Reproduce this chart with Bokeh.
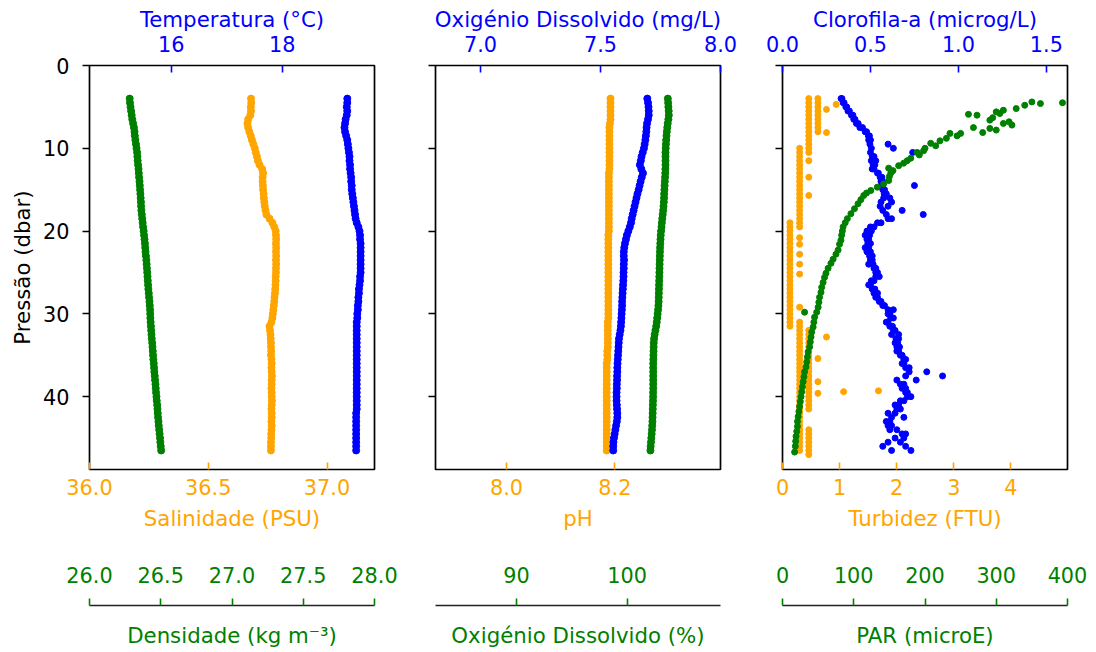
from bokeh.plotting import figure
from bokeh.models import Range1d, LinearAxis, FixedTicker, PrintfTickFormatter
from bokeh.layouts import row
from bokeh.embed import file_html
from bokeh.resources import INLINE

# ---------------- data ----------------
pressao = [
    4.0, 4.5, 5.0, 5.5, 6.0, 6.5, 7.0, 7.5, 8.0, 8.5,
    9.0, 9.5, 10.0, 10.5, 11.0, 11.5, 12.0, 12.5, 13.0, 13.5,
    14.0, 14.5, 15.0, 15.5, 16.0, 16.5, 17.0, 17.5, 18.0, 18.5,
    19.0, 19.5, 20.0, 20.5, 21.0, 21.5, 22.0, 22.5, 23.0, 23.5,
    24.0, 24.5, 25.0, 25.5, 26.0, 26.5, 27.0, 27.5, 28.0, 28.5,
    29.0, 29.5, 30.0, 30.5, 31.0, 31.5, 32.0, 32.5, 33.0, 33.5,
    34.0, 34.5, 35.0, 35.5, 36.0, 36.5, 37.0, 37.5, 38.0, 38.5,
    39.0, 39.5, 40.0, 40.5, 41.0, 41.5, 42.0, 42.5, 43.0, 43.5,
    44.0, 44.5, 45.0, 45.5, 46.0, 46.5]

densidade = [
    26.282, 26.284, 26.288, 26.292, 26.296, 26.300, 26.306, 26.312, 26.316, 26.318,
    26.322, 26.326, 26.330, 26.334, 26.336, 26.338, 26.341, 26.344, 26.346, 26.348,
    26.351, 26.353, 26.355, 26.357, 26.359, 26.361, 26.362, 26.364, 26.367, 26.370,
    26.373, 26.376, 26.380, 26.383, 26.386, 26.389, 26.391, 26.393, 26.396, 26.399,
    26.401, 26.403, 26.405, 26.407, 26.409, 26.411, 26.413, 26.416, 26.418, 26.421,
    26.423, 26.425, 26.426, 26.427, 26.429, 26.431, 26.433, 26.435, 26.437, 26.440,
    26.442, 26.444, 26.446, 26.448, 26.451, 26.453, 26.455, 26.458, 26.460, 26.463,
    26.465, 26.467, 26.470, 26.472, 26.475, 26.477, 26.479, 26.481, 26.484, 26.486,
    26.489, 26.492, 26.495, 26.497, 26.500, 26.503]

salinidade = [
    36.680, 36.681, 36.679, 36.680, 36.677, 36.668, 36.665, 36.668, 36.673, 36.679,
    36.684, 36.690, 36.696, 36.700, 36.705, 36.709, 36.716, 36.727, 36.731, 36.729,
    36.729, 36.730, 36.731, 36.733, 36.734, 36.736, 36.738, 36.741, 36.745, 36.758,
    36.770, 36.778, 36.784, 36.785, 36.786, 36.785, 36.786, 36.785, 36.786, 36.785,
    36.786, 36.785, 36.785, 36.784, 36.784, 36.783, 36.782, 36.781, 36.779, 36.778,
    36.776, 36.774, 36.772, 36.770, 36.766, 36.758, 36.760, 36.762, 36.763, 36.764,
    36.764, 36.765, 36.764, 36.766, 36.767, 36.766, 36.767, 36.768, 36.767, 36.767,
    36.766, 36.767, 36.767, 36.768, 36.767, 36.766, 36.767, 36.767, 36.766, 36.767,
    36.766, 36.765, 36.765, 36.764, 36.764, 36.764]

temperatura = [
    19.17, 19.17, 19.16, 19.17, 19.16, 19.14, 19.13, 19.12, 19.13, 19.15,
    19.17, 19.18, 19.19, 19.20, 19.21, 19.21, 19.22, 19.22, 19.23, 19.24,
    19.24, 19.25, 19.25, 19.26, 19.27, 19.28, 19.29, 19.30, 19.31, 19.32,
    19.34, 19.37, 19.39, 19.40, 19.40, 19.41, 19.41, 19.41, 19.41, 19.41,
    19.41, 19.41, 19.41, 19.40, 19.40, 19.39, 19.38, 19.38, 19.37, 19.37,
    19.36, 19.36, 19.35, 19.35, 19.34, 19.34, 19.34, 19.34, 19.34, 19.34,
    19.34, 19.34, 19.34, 19.34, 19.34, 19.34, 19.34, 19.34, 19.34, 19.34,
    19.34, 19.34, 19.34, 19.34, 19.34, 19.34, 19.33, 19.33, 19.33, 19.33,
    19.33, 19.33, 19.33, 19.33, 19.33, 19.33]

ph = [
    8.192, 8.192, 8.192, 8.192, 8.192, 8.192, 8.191, 8.190, 8.190, 8.190,
    8.190, 8.190, 8.190, 8.190, 8.190, 8.190, 8.190, 8.190, 8.189, 8.189,
    8.189, 8.189, 8.189, 8.189, 8.189, 8.189, 8.189, 8.189, 8.189, 8.189,
    8.189, 8.189, 8.189, 8.188, 8.188, 8.188, 8.188, 8.188, 8.188, 8.188,
    8.188, 8.188, 8.188, 8.188, 8.188, 8.188, 8.188, 8.188, 8.188, 8.188,
    8.188, 8.188, 8.188, 8.188, 8.187, 8.187, 8.187, 8.187, 8.187, 8.187,
    8.187, 8.186, 8.186, 8.186, 8.185, 8.185, 8.185, 8.185, 8.185, 8.185,
    8.185, 8.185, 8.185, 8.185, 8.185, 8.185, 8.185, 8.185, 8.185, 8.185,
    8.185, 8.185, 8.185, 8.185, 8.185, 8.185]

od_mgl = [
    7.695, 7.698, 7.700, 7.701, 7.701, 7.698, 7.694, 7.692, 7.691, 7.689,
    7.687, 7.684, 7.681, 7.676, 7.671, 7.668, 7.664, 7.670, 7.677, 7.672,
    7.667, 7.663, 7.659, 7.654, 7.650, 7.646, 7.642, 7.638, 7.634, 7.630,
    7.627, 7.622, 7.616, 7.610, 7.606, 7.602, 7.599, 7.597, 7.597, 7.598,
    7.597, 7.597, 7.596, 7.596, 7.595, 7.594, 7.593, 7.592, 7.591, 7.590,
    7.590, 7.589, 7.588, 7.587, 7.586, 7.585, 7.583, 7.580, 7.577, 7.576,
    7.575, 7.574, 7.573, 7.572, 7.571, 7.570, 7.570, 7.569, 7.569, 7.568,
    7.568, 7.567, 7.567, 7.567, 7.568, 7.569, 7.570, 7.570, 7.568, 7.565,
    7.562, 7.559, 7.556, 7.554, 7.553, 7.553]

od_pct = [
    103.67, 103.70, 103.72, 103.75, 103.76, 103.72, 103.66, 103.62, 103.58, 103.55,
    103.52, 103.50, 103.48, 103.46, 103.46, 103.46, 103.46, 103.45, 103.44, 103.42,
    103.40, 103.38, 103.36, 103.34, 103.33, 103.31, 103.28, 103.25, 103.21, 103.17,
    103.13, 103.10, 103.06, 103.03, 103.01, 102.99, 102.97, 102.96, 102.95, 102.94,
    102.93, 102.92, 102.91, 102.90, 102.89, 102.88, 102.87, 102.86, 102.85, 102.84,
    102.82, 102.79, 102.75, 102.71, 102.67, 102.62, 102.55, 102.48, 102.43, 102.40,
    102.39, 102.38, 102.37, 102.36, 102.35, 102.35, 102.35, 102.35, 102.35, 102.35,
    102.35, 102.34, 102.34, 102.33, 102.32, 102.31, 102.30, 102.29, 102.28, 102.26,
    102.24, 102.21, 102.18, 102.15, 102.12, 102.10]

clorofila_a = [
    0.333, 0.345, 0.360, 0.372, 0.392, 0.405, 0.420, 0.440, 0.470, 0.488,
    0.490, 0.497, 0.505, 0.500, 0.510, 0.505, 0.515, 0.520, 0.540, 0.555,
    0.560, 0.565, 0.570, 0.578, 0.575, 0.560, 0.555, 0.570, 0.590, 0.600,
    0.560, 0.520, 0.505, 0.495, 0.490, 0.485, 0.490, 0.500, 0.495, 0.510,
    0.515, 0.520, 0.540, 0.530, 0.505, 0.500, 0.525, 0.520, 0.540, 0.560,
    0.580, 0.600, 0.610, 0.615, 0.600, 0.625, 0.640, 0.620, 0.645, 0.655,
    0.650, 0.660, 0.670, 0.690, 0.680, 0.700, 0.720, 0.700, 0.650, 0.670,
    0.680, 0.700, 0.710, 0.690, 0.660, 0.650, 0.640, 0.620, 0.610, 0.600,
    0.650, 0.680, 0.640, 0.670, 0.700, 0.620]

clorofila_b = [
    0.338, 0.350, 0.365, 0.380, 0.400, 0.412, 0.430, 0.455, 0.478, 0.494,
    0.500, 0.600, 0.630, 0.740, 0.520, 0.530, 0.525, 0.510, 0.545, 0.565,
    0.570, 0.750, 0.580, 0.590, 0.610, 0.620, 0.600, 0.680, 0.800, 0.620,
    0.540, 0.500, 0.480, 0.470, 0.480, 0.500, 0.470, 0.480, 0.510, 0.500,
    0.490, 0.530, 0.530, 0.550, 0.520, 0.490, 0.510, 0.540, 0.530, 0.550,
    0.570, 0.630, 0.600, 0.630, 0.590, 0.610, 0.630, 0.660, 0.660, 0.640,
    0.665, 0.650, 0.680, 0.700, 0.690, 0.720, 0.820, 0.910, 0.760, 0.690,
    0.700, 0.710, 0.730, 0.670, 0.640, 0.670, 0.600, 0.690, 0.590, 0.620,
    0.610, 0.700, 0.690, 0.600, 0.570, 0.730]

par_pressao = [
    4.4, 4.5, 4.6, 4.8, 5.2, 5.4, 5.6, 5.8, 5.9, 6.0, 6.3, 6.6, 6.8, 7.0, 7.2, 7.5,
    7.6, 7.8, 8.1, 8.2, 8.2, 8.5, 8.8, 9.1, 9.4, 9.7, 10.0, 10.3, 10.5, 10.8, 11.2,
    11.5, 11.8, 12.1, 12.4, 12.7, 13.0, 13.4, 13.9, 14.3, 14.7, 15.1, 15.4, 15.7,
    16.2, 16.7, 17.3, 17.9, 18.5, 19.0, 19.5, 20.0, 20.5, 21.1, 21.6, 22.3, 22.8,
    23.4, 23.9, 24.5, 25.1, 25.6, 26.2, 26.8, 27.4, 28.0, 28.6, 29.2, 29.8, 29.8,
    30.4, 31.0, 31.6, 32.2, 32.8, 33.4, 34.0, 34.6, 35.2, 35.8, 36.4, 37.0, 37.6,
    38.2, 38.8, 39.4, 40.0, 40.6, 41.2, 41.8, 42.4, 43.0, 43.6, 44.2, 44.8, 45.4,
    46.0, 46.7]
par = [
    350, 393, 362, 340, 328, 310, 300, 305, 261, 273, 295, 291, 318, 310, 322, 268,
    291, 300, 281, 250, 235, 245, 230, 221, 208, 215, 200, 198, 189, 192, 180,
    175, 170, 163, 149, 155, 152, 150, 149, 142, 133, 124, 118, 114,
    110, 106, 101, 96, 91, 88, 85, 84, 83, 82, 80, 78, 75,
    71, 68, 64, 61, 59, 57, 55, 54, 52, 51, 50, 31, 48,
    45, 44, 43, 41, 40, 39, 38, 36, 35, 34, 33, 31, 30,
    29, 28, 27, 26, 25, 24, 23, 22, 21, 21, 20, 19, 18.5,
    18, 17]

turb_pressao = (
    [4.0, 4.5, 5.0, 5.5, 6.0, 6.5, 7.0, 7.5, 8.0, 8.5, 9.0, 9.5, 10.0, 10.5]
    + [4.0, 4.5, 5.0, 5.5, 6.0, 6.5, 7.0, 7.5, 8.0]
    + [4.7, 5.3, 8.1, 11.5, 13.5, 15.7]
    + [10.0, 10.5, 11.0, 11.5, 12.0, 12.5, 13.0, 13.5, 14.0, 14.5,
       15.0, 15.5, 16.0, 16.5, 17.0, 17.5, 18.0, 18.5, 19.0, 19.5]
    + [19.0, 19.5, 20.0, 20.5, 21.0, 21.5, 22.0, 22.5, 23.0, 23.5, 24.0, 24.5, 25.0,
       25.5, 26.0, 26.5, 27.0, 27.5, 28.0, 28.5, 29.0, 29.5, 30.0, 30.5, 31.0, 31.5]
    + [20.8, 21.6, 22.8, 24.0, 25.2, 29.2]
    + [31.0, 31.5, 32.0, 32.5, 33.0, 33.5, 34.0, 34.5, 35.0, 35.5, 36.0, 36.5, 37.0,
       37.5, 38.0, 38.5, 39.0, 39.5, 40.0, 40.5, 41.0, 41.5, 42.0, 42.5, 43.0, 43.5,
       44.0, 44.5, 45.0, 45.5, 46.0, 46.5]
    + [32.0, 32.5, 33.0, 33.5, 34.0, 34.5, 35.0, 35.5, 36.0, 36.5, 37.0, 37.5, 38.0,
       38.5, 39.0, 39.5, 40.0, 40.5, 41.0, 41.5]
    + [44.0, 44.5, 45.0, 45.5, 46.0, 46.5, 47.0]
    + [32.8, 35.4, 38.2, 39.6, 39.4, 39.3]
)
turbidez = (
    [0.46] * 14
    + [0.62] * 9
    + [0.94, 0.77, 0.77, 0.46, 0.46, 0.46]
    + [0.30] * 20
    + [0.13] * 26
    + [0.30] * 6
    + [0.30] * 32
    + [0.46] * 20
    + [0.46] * 7
    + [0.77, 0.62, 0.62, 0.62, 1.07, 1.68]
)

# ticks
y_ticks = [0, 10, 20, 30, 40]
sal_ticks = [36.0, 36.5, 37.0]
temp_ticks = [16, 18]
dens_ticks = [26.0, 26.5, 27.0, 27.5, 28.0]
ph_ticks = [8.0, 8.2]
odmg_ticks = [7.0, 7.5, 8.0]
odpct_ticks = [90, 100]
turb_ticks = [0, 1, 2, 3, 4]
chl_ticks = [0.0, 0.5, 1.0, 1.5]
par_ticks = [0, 100, 200, 300, 400]

# ---------------- styling ----------------
FONT = "DejaVu Sans"
FS = "20.8px"      # tick labels
FT = "21.3px"      # axis titles
BLUE, ORANGE, GREEN = "#0000ff", "#ffa500", "#008000"


def make_axis(color, ticks, fmt, title=None, range_name=None, tick_in=0, tick_out=0,
              label_standoff=0, title_standoff=0, labels=True, line=False,
              title_size=FT, title_color=None, dim="x"):
    kw = {"x_range_name": range_name} if (range_name and dim == "x") else {}
    ax = LinearAxis(ticker=FixedTicker(ticks=ticks, minor_ticks=[]),
                    formatter=PrintfTickFormatter(format=fmt), **kw)
    ax.axis_label = title
    ax.axis_label_text_font = FONT
    ax.axis_label_text_font_size = title_size
    ax.axis_label_text_font_style = "normal"
    if title_color == "none":
        ax.axis_label_text_color = None
    else:
        ax.axis_label_text_color = color
    ax.axis_label_standoff = title_standoff
    ax.major_label_text_font = FONT
    if labels:
        ax.major_label_text_font_size = FS
        ax.major_label_text_color = color
    else:
        ax.major_label_text_font_size = "1px"
        ax.major_label_text_color = None
    ax.major_label_standoff = label_standoff
    ax.major_tick_in = tick_in
    ax.major_tick_out = tick_out
    ax.major_tick_line_color = color
    ax.major_tick_line_width = 1.6
    ax.minor_tick_line_color = None
    if line:
        ax.axis_line_color = "#222222"
        ax.axis_line_width = 1.7
    else:
        ax.axis_line_color = None
    return ax


def make_panel(xr, xr_top, xr_green, left, right, frame_w, show_ylabels):
    p = figure(frame_width=frame_w, frame_height=404,
               x_range=Range1d(*xr), y_range=Range1d(48.8, 0),
               x_axis_location=None, y_axis_location=None,
               toolbar_location=None, output_backend="svg",
               min_border_left=left, min_border_right=right,
               min_border_top=65, min_border_bottom=0)
    p.extra_x_ranges = {"top": Range1d(*xr_top), "green": Range1d(*xr_green)}
    p.xgrid.visible = False
    p.ygrid.visible = False
    p.outline_line_color = "black"
    p.outline_line_width = 1.7
    p.background_fill_color = "white"
    p.border_fill_color = "white"
    if show_ylabels:
        yax = make_axis("black", y_ticks, "%d", "Pressão (dbar)", tick_out=7,
                        label_standoff=13, title_standoff=5, dim="y")
    else:
        yax = make_axis("black", y_ticks, "%d", None, tick_out=7, labels=False, dim="y")
    p.add_layout(yax, "left")
    return p


def add_x_axes(p, bottom, top, green):
    # bottom (orange) axis: ticks inside frame
    c, t, f, title = bottom
    p.add_layout(make_axis(c, t, f, title, tick_in=7, label_standoff=9, title_standoff=8), "below")
    # green scale: labels above the line, title below
    c, t, f, title = green
    lab = make_axis(c, t, f, " ", range_name="green", label_standoff=33,
                    title_standoff=6, title_size="10px", title_color="none")
    p.add_layout(lab, "below")
    p.add_layout(make_axis(c, t, f, title, range_name="green", tick_in=7, labels=False,
                           line=True, title_standoff=17), "below")
    # top (blue) axis: ticks inside frame
    c, t, f, title = top
    p.add_layout(make_axis(c, t, f, title, range_name="top", tick_in=7, label_standoff=14,
                           title_standoff=1), "above")


# ---------------- panel 1 ----------------
p1 = make_panel((36.0, 37.20), (14.53, 19.66), (26.0, 28.0), 89, 28, 285, True)
add_x_axes(p1, (ORANGE, sal_ticks, "%.1f", "Salinidade (PSU)"),
           (BLUE, temp_ticks, "%d", "Temperatura (°C)"),
           (GREEN, dens_ticks, "%.1f", "Densidade (kg m⁻³)"))
p1.scatter(densidade, pressao, size=7, color=GREEN, x_range_name="green")
p1.scatter(salinidade, pressao, size=7, color=ORANGE)
p1.scatter(temperatura, pressao, size=7, color=BLUE, x_range_name="top")

# ---------------- panel 2 ----------------
p2 = make_panel((7.869, 8.395), (6.8125, 8.0), (82.68, 108.43), 33, 28, 285, False)
add_x_axes(p2, (ORANGE, ph_ticks, "%.1f", "pH"),
           (BLUE, odmg_ticks, "%.1f", "Oxigénio Dissolvido (mg/L)"),
           (GREEN, odpct_ticks, "%d", "Oxigénio Dissolvido (%)"))
p2.scatter(ph, pressao, size=7, color=ORANGE)
p2.scatter(od_mgl, pressao, size=7, color=BLUE, x_range_name="top")
p2.scatter(od_pct, pressao, size=7, color=GREEN, x_range_name="green")

# ---------------- panel 3 ----------------
p3 = make_panel((0.0, 4.99), (0.0, 1.62), (0.0, 400.0), 34, 24, 285, False)
add_x_axes(p3, (ORANGE, turb_ticks, "%d", "Turbidez (FTU)"),
           (BLUE, chl_ticks, "%.1f", "Clorofila-a (microg/L)"),
           (GREEN, par_ticks, "%d", "PAR (microE)"))
p3.scatter(turbidez, turb_pressao, size=6, color=ORANGE)
p3.scatter(clorofila_a, pressao, size=6, color=BLUE, x_range_name="top")
p3.scatter(clorofila_b, pressao, size=6, color=BLUE, x_range_name="top")
p3.scatter(par, par_pressao, size=6, color=GREEN, x_range_name="green")

layout = row(p1, p2, p3, spacing=0)
open("out.html", "w").write(file_html(layout, INLINE))
